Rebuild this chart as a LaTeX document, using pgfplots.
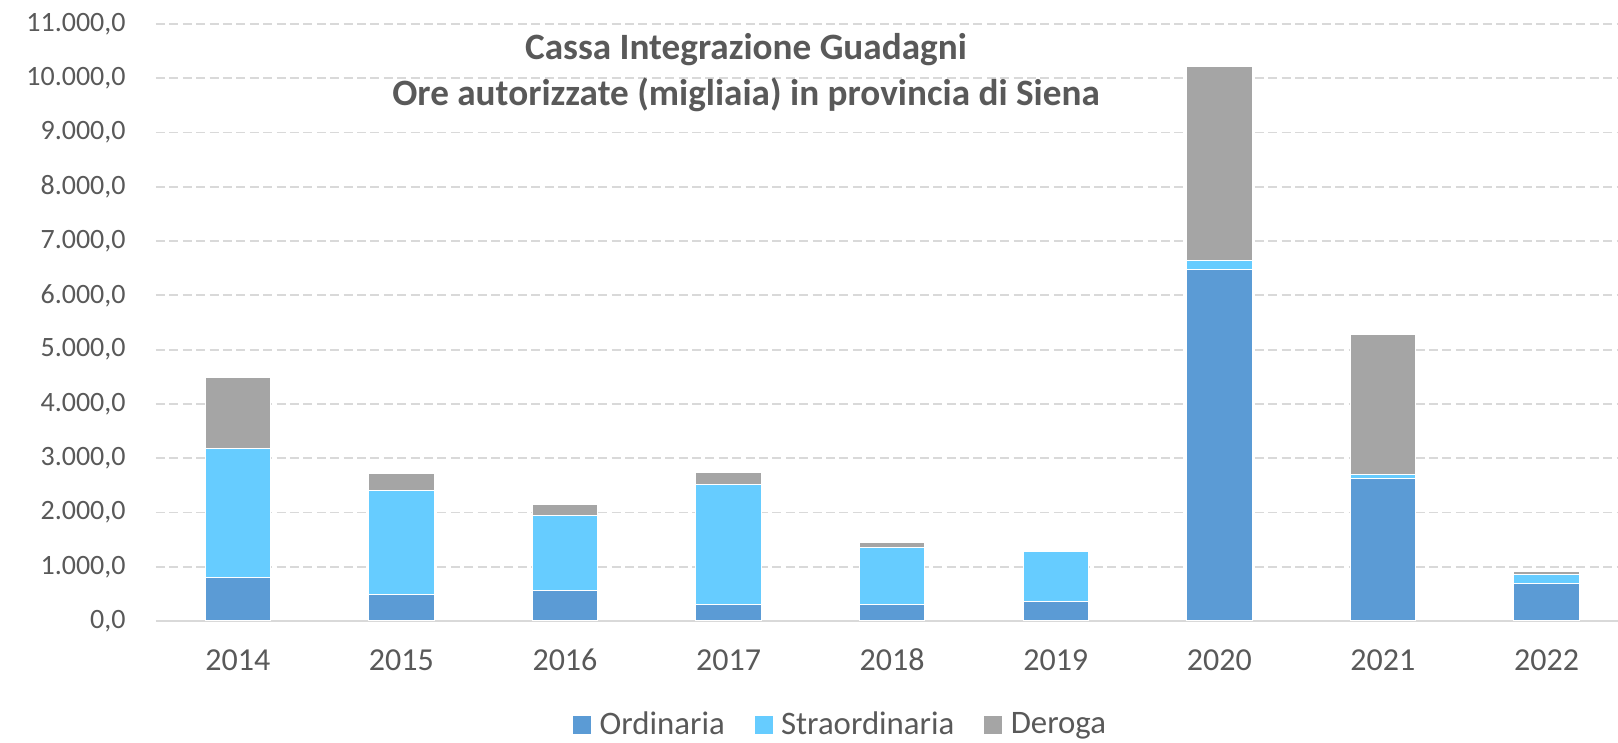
\documentclass[border=0pt]{standalone}
\usepackage{fontspec}
\setmainfont{Carlito}
\usepackage{pgfplots}
\pgfplotsset{compat=1.18}
\definecolor{cord}{HTML}{5B9BD5}
\definecolor{cstr}{HTML}{66CCFF}
\definecolor{cder}{HTML}{A5A5A5}
\definecolor{cgrid}{HTML}{D9D9D9}
\definecolor{ctext}{HTML}{595959}
\pgfplotsset{
  sq/.style={fill=#1,draw=white,line width=0.5pt,
    legend image code/.code={\fill[#1] (0pt,-4.2pt) rectangle (8.4pt,4.2pt);}},
}
\begin{document}
\begin{tikzpicture}[x=1pt,y=1pt]
\begin{axis}[
  at={(0,0)}, anchor=south west,
  scale only axis, width=731pt, height=298.5pt,
  ybar stacked, bar width=0.4,
  xmin=-0.5, xmax=8.437, ymin=0, ymax=11000,
  xtick={0,...,8},
  xticklabels={2014,2015,2016,2017,2018,2019,2020,2021,2022},
  ytick={0,1000,...,11000},
  scaled y ticks=false,
  major tick length=0pt,
  axis x line*=bottom, axis y line*=left,
  x axis line style={draw=cgrid,line width=1pt},
  y axis line style={draw=none},
  ymajorgrids,
  grid style={draw=cgrid,line width=0.9pt,dash pattern=on 4.5pt off 2.2pt},
  /pgf/number format/.cd, fixed, fixed zerofill, precision=1, use comma, 1000 sep={.}, assume math mode=true,
  /pgfplots/.cd,
  yticklabel style={font=\fontsize{14}{16}\selectfont, text=ctext, anchor=east, inner sep=0pt, xshift=-15pt},
  xticklabel style={font=\fontsize{16}{18}\selectfont, text=ctext, anchor=center, inner sep=0pt, yshift=-19.5pt},
  legend columns=-1,
  legend style={draw=none, fill=none, font=\fontsize{16.4}{18}\selectfont, text=ctext,
    at={(0.469,-0.174)}, anchor=center,
    /tikz/every odd column/.append style={column sep=2.3pt},
    /tikz/every even column/.append style={column sep=13pt}},
]
\addplot[sq=cord] coordinates {(0,800) (1,490) (2,565) (3,295) (4,313) (5,363) (6,6480) (7,2620) (8,700)};
\addplot[sq=cstr] coordinates {(0,2380) (1,1915) (2,1380) (3,2220) (4,1045) (5,920) (6,170) (7,75) (8,155)};
\addplot[sq=cder] coordinates {(0,1310) (1,320) (2,195) (3,220) (4,85) (5,0) (6,3570) (7,2580) (8,62)};
\legend{Ordinaria,Straordinaria,Deroga}
\end{axis}
\node[align=center, text=ctext, font=\bfseries\fontsize{18.6}{23}\selectfont] at (295pt,274pt)
  {Cassa Integrazione Guadagni\\Ore autorizzate (migliaia) in provincia di Siena};
\pgfresetboundingbox
\path[use as bounding box] (-78pt,-61pt) rectangle (731pt,310.5pt);
\end{tikzpicture}
\end{document}
